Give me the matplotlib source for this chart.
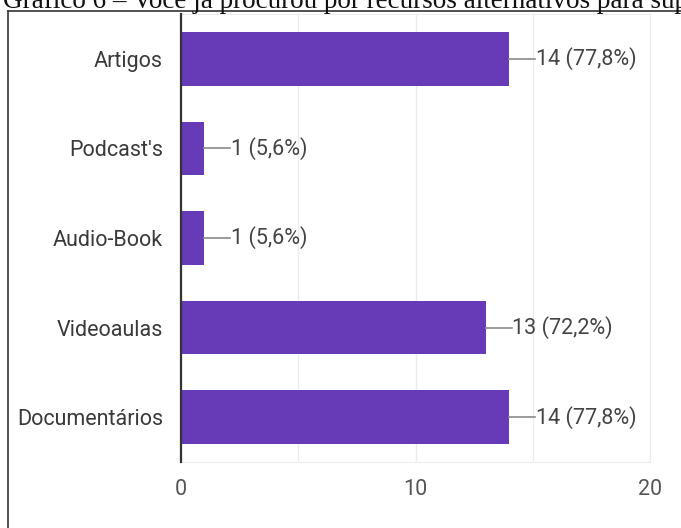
import matplotlib
matplotlib.use('Agg')
import matplotlib.pyplot as plt
from matplotlib.lines import Line2D

# Data
categories = ['Artigos', "Podcast's", 'Audio-Book', 'Videoaulas', 'Documentários']
counts = [14, 1, 1, 13, 14]
percents = ['77,8%', '5,6%', '5,6%', '72,2%', '77,8%']
x_ticks = [0, 10, 20]
title_text = 'Gráfico 6 – Você já procurou por recursos alternativos para suprir'

plt.rcParams['font.family'] = ['Roboto', 'DejaVu Sans']

fig = plt.figure(figsize=(6.81, 5.28), dpi=100)
ax = fig.add_axes([181 / 681, 1 - 462 / 528, (650 - 181) / 681, (462 - 14) / 528])

ypos = list(range(len(categories)))
ax.barh(ypos, counts, height=0.6, color='#673ab7', zorder=3)

# connector line + value label
for y, c, p in zip(ypos, counts, percents):
    ax.plot([c, c + 1.1], [y, y], color='#8a8a8a', lw=1.2, zorder=3)
    ax.text(c + 1.12, y, f'{c} ({p})', va='center', ha='left',
            fontsize=15.5, color='#444444')

ax.set_xlim(0, 20)
ax.set_ylim(4.5, -0.5)
ax.set_yticks(ypos)
ax.set_yticklabels(categories, fontsize=15.5, color='#3a3a3a')
ax.set_xticks(x_ticks)
ax.set_xticklabels([str(t) for t in x_ticks], fontsize=15.5, color='#555555')
ax.set_xticks([5, 15], minor=True)
ax.tick_params(axis='both', which='both', length=0)
ax.tick_params(axis='y', pad=13)
ax.tick_params(axis='x', pad=12)

ax.grid(axis='x', which='both', color='#ebebeb', lw=1, zorder=0)
for side in ['top', 'right', 'bottom']:
    ax.spines[side].set_color('#ededed')
ax.spines['left'].set_color('#333333')
ax.spines['left'].set_linewidth(1.6)
ax.spines['left'].set_zorder(4)

# page title cut off at the top, and the frame of the figure
fig.text(0.004, 1 - 8 / 528, title_text, fontsize=19.5, family='Liberation Serif',
         color='#111111', va='baseline', ha='left')
fig.add_artist(Line2D([8 / 681, 1], [1 - 11 / 528, 1 - 11 / 528],
                      transform=fig.transFigure, color='#333333', lw=1.2))
fig.add_artist(Line2D([8 / 681, 8 / 681], [0, 1 - 11 / 528],
                      transform=fig.transFigure, color='#333333', lw=1.2))

fig.savefig('out.png', dpi=100)
